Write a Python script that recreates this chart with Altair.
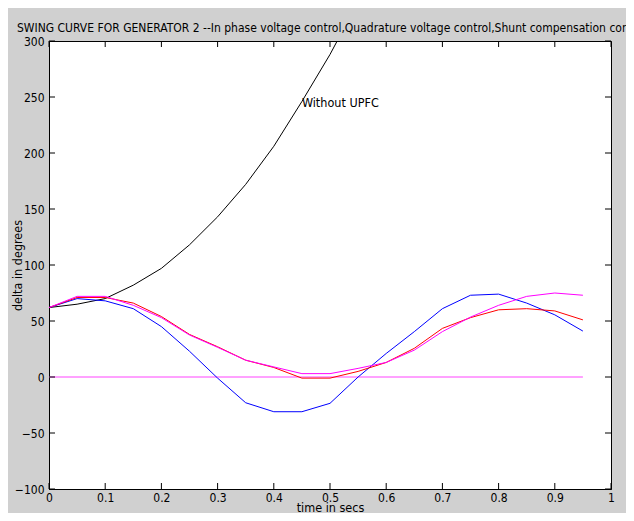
import altair as alt
import pandas as pd

# ---- data ----
t = [0.0, 0.05, 0.1, 0.15, 0.2, 0.25, 0.3, 0.35, 0.4, 0.45,
     0.5, 0.55, 0.6, 0.65, 0.7, 0.75, 0.8, 0.85, 0.9, 0.95]
without_upfc = [62, 65, 70, 82, 97, 118, 143, 172, 206, 246, 288, 335]
blue_series = [62, 70, 68, 61, 45, 23, -1, -23, -31, -31,
               -23.5, 0, 21, 40.5, 61, 73, 74, 66, 55.5, 41]
red_series = [62, 71, 71, 66, 54, 38, 27, 15, 8.5, -1,
              -1, 5, 13, 25.6, 43.4, 53, 60, 61, 59, 51]
magenta_series = [62, 72, 72, 64, 53, 37.5, 26.5, 15, 9, 3,
                  3, 7.7, 13, 24, 40.5, 53.5, 64, 72, 75, 73]
zero_t = [0.0, 0.95]
zero_v = [0, 0]

x_ticks = [0, 0.1, 0.2, 0.3, 0.4, 0.5, 0.6, 0.7, 0.8, 0.9, 1]
y_ticks = [-100, -50, 0, 50, 100, 150, 200, 250, 300]

series_names = ["zero", "without", "blue", "red", "magenta"]
series_colors = ["#ff44ff", "#000000", "#0000ff", "#ff0000", "#ff00ff"]

rows = []
for tv, v in zip(zero_t, zero_v):
    rows.append({"t": tv, "v": v, "s": "zero"})
for tv, v in zip(t, without_upfc):
    rows.append({"t": tv, "v": v, "s": "without"})
for name, vals in [("blue", blue_series), ("red", red_series), ("magenta", magenta_series)]:
    for tv, v in zip(t, vals):
        rows.append({"t": tv, "v": v, "s": name})
df = pd.DataFrame(rows)

FONT = "DejaVu Sans Condensed, Liberation Sans, sans-serif"
W, H = 562, 448

xs = alt.Scale(domain=[0, 1], nice=False, zero=False)
ys = alt.Scale(domain=[-100, 300], nice=False, zero=False)

lines = alt.Chart(df).mark_line(strokeWidth=1, clip=True).encode(
    x=alt.X("t:Q", scale=xs,
            axis=alt.Axis(values=x_ticks, format="~g", title="time in secs", ticks=False,
                          grid=False, domainColor="black", labelPadding=3,
                          labelFont=FONT, labelFontSize=12, labelColor="black",
                          labelFlush=False, labelOverlap=False,
                          titleFont=FONT, titleFontSize=12.5, titleFontWeight="normal",
                          titleColor="black", titleY=22, titleBaseline="alphabetic")),
    y=alt.Y("v:Q", scale=ys,
            axis=alt.Axis(values=y_ticks, title="delta in degrees", ticks=False,
                          grid=False, domainColor="black", labelPadding=5,
                          labelFont=FONT, labelFontSize=12, labelColor="black",
                          labelFlush=False, labelOverlap=False, labelBound=False,
                          titleFont=FONT, titleFontSize=12.5, titleFontWeight="normal",
                          titleColor="black", titleX=-31.5, titleY=H / 2,
                          titleBaseline="middle")),
    color=alt.Color("s:N", scale=alt.Scale(domain=series_names, range=series_colors), legend=None),
    detail="s:N",
    order=alt.Order("t:Q"),
)

xt = pd.DataFrame({"tick": x_ticks})
yt = pd.DataFrame({"tick": y_ticks})

bottom_ticks = alt.Chart(xt).mark_rule(color="black", strokeWidth=1).encode(
    x=alt.X("tick:Q", scale=xs), y=alt.value(H), y2=alt.value(H - 6))
top_ticks = alt.Chart(xt).mark_rule(color="black", strokeWidth=1).encode(
    x=alt.X("tick:Q", scale=xs), y=alt.value(0), y2=alt.value(6))
left_ticks = alt.Chart(yt).mark_rule(color="black", strokeWidth=1).encode(
    y=alt.Y("tick:Q", scale=ys), x=alt.value(0), x2=alt.value(6))
right_ticks = alt.Chart(yt).mark_rule(color="black", strokeWidth=1).encode(
    y=alt.Y("tick:Q", scale=ys), x=alt.value(W), x2=alt.value(W - 6))

label_df = pd.DataFrame({"t": [0.45], "v": [245], "txt": ["Without UPFC"]})
label = alt.Chart(label_df).mark_text(
    align="left", baseline="middle", font=FONT, fontSize=12.5, color="black"
).encode(x=alt.X("t:Q", scale=xs), y=alt.Y("v:Q", scale=ys), text="txt:N")

chart = alt.layer(lines, bottom_ticks, top_ticks, left_ticks, right_ticks, label).properties(
    width=W, height=H,
    title=alt.TitleParams(
        "SWING CURVE FOR GENERATOR 2 --In phase voltage control,Quadrature voltage control,Shunt compensation control",
        anchor="start", frame="group", dx=-32, offset=-9, baseline="alphabetic",
        font=FONT, fontSize=12, fontWeight="normal", color="black"),
    autosize=alt.AutoSizeParams(type="none"),
    padding={"left": 41, "top": 33, "right": 15, "bottom": 24},
    background="#d0d0d0",
).configure_view(
    stroke="black", strokeWidth=1, fill="white"
).configure_axis(
    domainWidth=1
)

chart.save("out.html", embed_options={"renderer": "svg", "actions": False})
